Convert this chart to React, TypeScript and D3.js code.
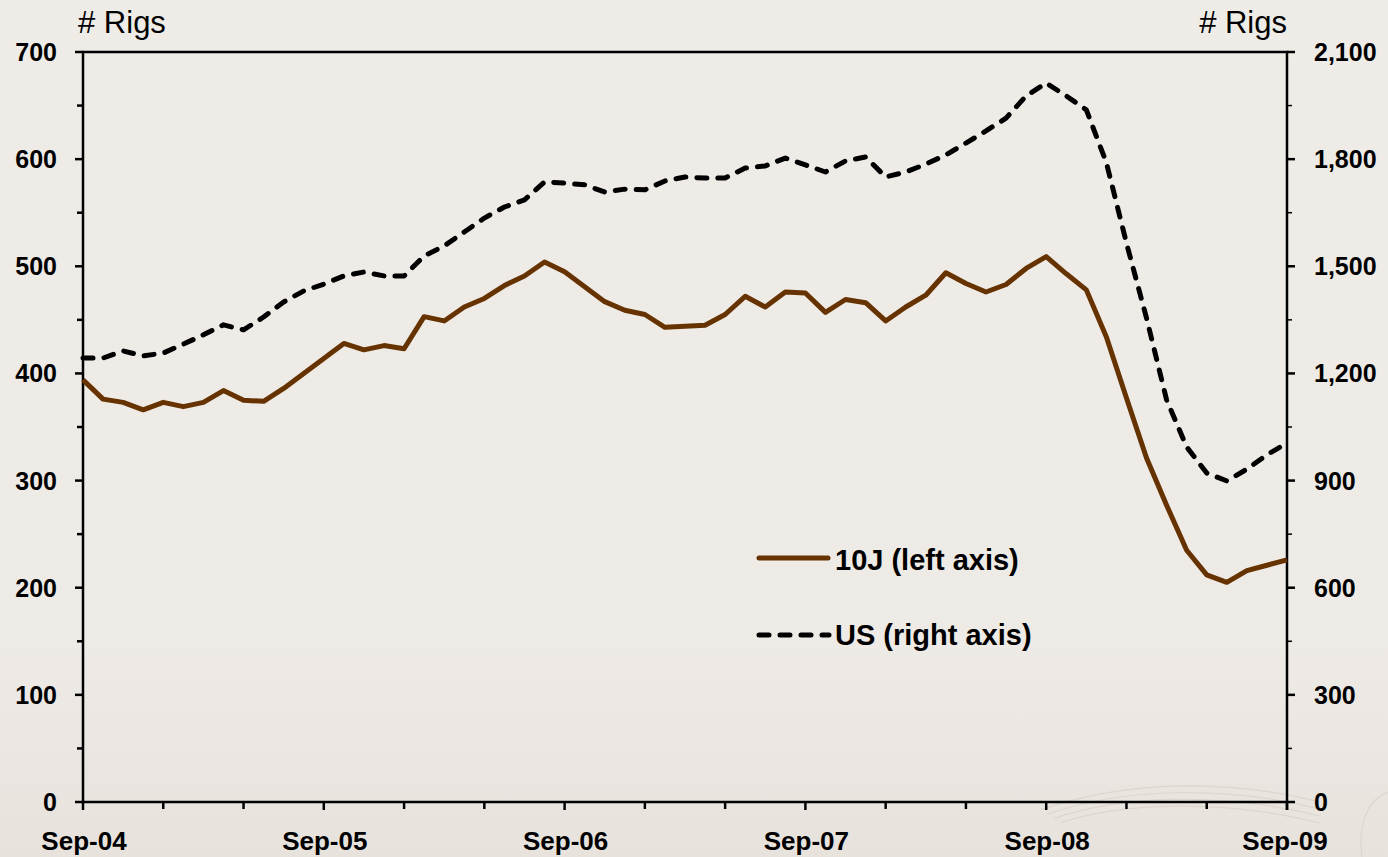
import React, { useEffect, useRef } from 'react';
import * as d3 from 'd3';

// monthly rig counts, Sep-04 .. Sep-09
const months = d3.range(61);
const rigs10J = [394,376,373,366,373,369,373,384,375,374,
  386,400,414,428,422,426,423,453,449,462,
  470,482,491,504,495,481,467,459,455,443,
  444,445,455,472,462,476,475,457,469,466,
  449,462,473,494,484,476,483,498,509,493,
  478,434,377,321,277,235,212,205,216,221,226];
const rigsUS = [1243,1243,1263,1249,1257,1282,1308,1336,1322,1358,
  1400,1431,1450,1473,1484,1473,1473,1529,1557,1596,
  1635,1666,1686,1736,1733,1728,1708,1716,1714,1739,
  1750,1747,1747,1775,1781,1803,1784,1764,1795,1806,
  1750,1764,1786,1812,1845,1879,1915,1977,2013,1977,
  1938,1790,1565,1355,1126,994,921,899,932,972,1005];
const xLabels = ['Sep-04','Sep-05','Sep-06','Sep-07','Sep-08','Sep-09'];
const leftTicks = [0,100,200,300,400,500,600,700];
const rightTicks = [0,300,600,900,1200,1500,1800,2100];

const W = 1388, H = 857;
const FONT = '"Liberation Sans", Arial, sans-serif';

export default function App() {
  const ref = useRef<SVGSVGElement>(null);

  useEffect(() => {
    const svg = d3.select(ref.current);
    svg.selectAll('*').remove();

    const left = 83, right = 1287, top = 52, bottom = 802;

    const x = d3.scaleLinear().domain([0, 60]).range([left, right]);
    const yL = d3.scaleLinear().domain([0, 700]).range([bottom, top]);
    const yR = d3.scaleLinear().domain([0, 2100]).range([bottom, top]);

    // background
    const defs = svg.append('defs');
    const grad = defs.append('linearGradient').attr('id', 'bg')
      .attr('x1', 0).attr('y1', 0).attr('x2', 0).attr('y2', 1);
    grad.append('stop').attr('offset', '0%').attr('stop-color', '#efece8');
    grad.append('stop').attr('offset', '75%').attr('stop-color', '#eeeae6');
    grad.append('stop').attr('offset', '100%').attr('stop-color', '#e7e2dc');
    svg.append('rect').attr('width', W).attr('height', H).attr('fill', 'url(#bg)');

    // faint swirl decoration bottom right
    const swirl = svg.append('g').attr('fill', 'none').attr('stroke', '#ddd6cd').attr('stroke-width', 1.2);
    [0, 7, 14, 21].forEach(o => {
      swirl.append('path').attr('d', `M${1040 + o},${810 + o * 0.6} C1120,${782 + o} 1220,${777 + o} 1320,${802 + o}`);
    });
    swirl.append('path').attr('d', 'M1362,857 C1357,822 1370,798 1388,792');

    // frame
    const axisColor = '#000';
    svg.append('rect').attr('x', left).attr('y', top)
      .attr('width', right - left).attr('height', bottom - top)
      .attr('fill', 'none').attr('stroke', axisColor).attr('stroke-width', 2.5);

    // left ticks
    const lg = svg.append('g');
    d3.range(0, 701, 50).forEach(v => {
      const major = v % 100 === 0;
      lg.append('line').attr('x1', left - (major ? 8 : 6)).attr('x2', left)
        .attr('y1', yL(v)).attr('y2', yL(v)).attr('stroke', axisColor).attr('stroke-width', 2.5);
    });
    lg.selectAll('text').data(leftTicks).enter().append('text')
      .attr('x', 57).attr('y', d => yL(d)).attr('dy', '0.36em')
      .attr('text-anchor', 'end').attr('font-family', FONT).attr('font-weight', 'bold')
      .attr('font-size', 25).text(d => d3.format(',')(d));

    // right ticks
    const rg = svg.append('g');
    d3.range(0, 2101, 150).forEach(v => {
      const major = v % 300 === 0;
      rg.append('line').attr('x1', right).attr('x2', right + (major ? 8 : 5))
        .attr('y1', yR(v)).attr('y2', yR(v)).attr('stroke', axisColor).attr('stroke-width', major ? 2.5 : 1.5);
    });
    rg.selectAll('text').data(rightTicks).enter().append('text')
      .attr('x', 1314).attr('y', d => yR(d)).attr('dy', '0.36em')
      .attr('text-anchor', 'start').attr('font-family', FONT).attr('font-weight', 'bold')
      .attr('font-size', 25).text(d => d3.format(',')(d));

    // x ticks every 4 months
    const xg = svg.append('g');
    d3.range(0, 61, 4).concat([60]).forEach(m => {
      xg.append('line').attr('x1', x(m)).attr('x2', x(m))
        .attr('y1', bottom).attr('y2', bottom + (m % 12 === 0 ? 8 : 7))
        .attr('stroke', axisColor).attr('stroke-width', 2.5);
    });
    xg.selectAll('text').data(xLabels).enter().append('text')
      .attr('x', (d, i) => x(i * 12) + (i === 0 ? 1 : i === 5 ? -2 : 1)).attr('y', 850)
      .attr('text-anchor', 'middle').attr('font-family', FONT).attr('font-weight', 'bold')
      .attr('font-size', 26).text(d => d);

    // axis titles
    svg.append('text').attr('x', 78).attr('y', 33).attr('font-family', FONT)
      .attr('font-size', 31).text('# Rigs');
    svg.append('text').attr('x', 1287).attr('y', 33).attr('text-anchor', 'end')
      .attr('font-family', FONT).attr('font-size', 31).text('# Rigs');

    // lines
    const lineL = d3.line<number>().x(d => x(d)).y(d => yL(rigs10J[d]));
    const lineR = d3.line<number>().x(d => x(d)).y(d => yR(rigsUS[d]));

    svg.append('path').datum(months).attr('d', lineR)
      .attr('fill', 'none').attr('stroke', '#000').attr('stroke-width', 5)
      .attr('stroke-dasharray', '10 11').attr('stroke-linecap', 'round').attr('stroke-linejoin', 'round');

    svg.append('path').datum(months).attr('d', lineL)
      .attr('fill', 'none').attr('stroke', '#663300').attr('stroke-width', 5)
      .attr('stroke-linejoin', 'round');

    // legend
    const leg = svg.append('g');
    leg.append('line').attr('x1', 759).attr('x2', 828).attr('y1', 558).attr('y2', 558)
      .attr('stroke', '#663300').attr('stroke-width', 5).attr('stroke-linecap', 'round');
    leg.append('text').attr('x', 835).attr('y', 570).attr('font-family', FONT)
      .attr('font-weight', 'bold').attr('font-size', 29).text('10J (left axis)');
    leg.append('line').attr('x1', 759).attr('x2', 829).attr('y1', 635).attr('y2', 635)
      .attr('stroke', '#000').attr('stroke-width', 5).attr('stroke-linecap', 'round')
      .attr('stroke-dasharray', '10 11');
    leg.append('text').attr('x', 835).attr('y', 645).attr('font-family', FONT)
      .attr('font-weight', 'bold').attr('font-size', 29).text('US (right axis)');
  }, []);

  return (
    <svg ref={ref} width={W} height={H}
      style={{ position: 'absolute', left: 0, top: 0, display: 'block' }} />
  );
}
